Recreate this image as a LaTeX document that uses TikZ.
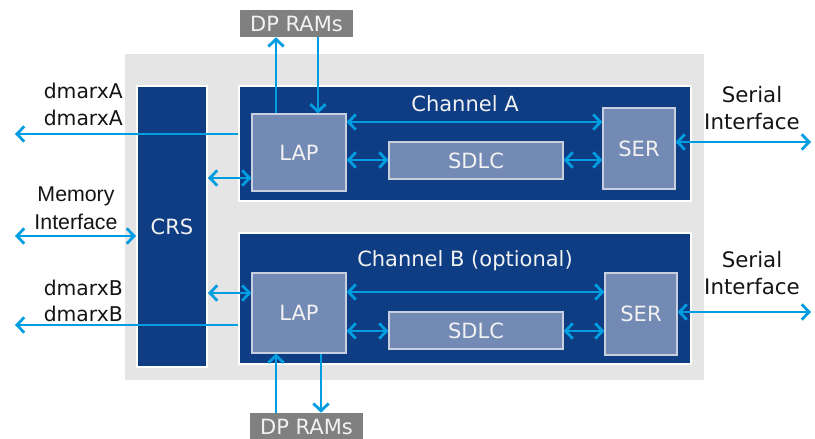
\documentclass[tikz,border=0pt]{standalone}
\usepackage{fontspec}
\setmainfont{DejaVu Sans}
\newfontfamily\arialfont{Liberation Sans}
\usetikzlibrary{arrows.meta}

\definecolor{chblue}{RGB}{14,61,132}
\definecolor{subblue}{RGB}{115,138,180}
\definecolor{subedge}{RGB}{200,208,224}
\definecolor{linkblue}{RGB}{0,158,224}
\definecolor{panelgray}{RGB}{229,229,229}
\definecolor{ramgray}{RGB}{128,128,128}
\definecolor{labelblack}{RGB}{20,20,20}
\definecolor{softwhite}{RGB}{242,242,242}

\tikzset{
  blk/.style 2 args={rectangle, inner sep=0pt,
    minimum width=#1*0.75pt, minimum height=#2*0.75pt},
  wtext/.style={text=softwhite, font=\fontsize{15.75pt}{18pt}\selectfont},
  chanbox/.style={fill=chblue, draw=white, line width=1.5pt},
  subbox/.style={fill=subblue, draw=subedge, line width=0.8pt, wtext},
  rambox/.style={fill=ramgray, wtext},
  extlabel/.style={text=labelblack, inner sep=0pt,
    font=\fontsize{15.25pt}{18pt}\selectfont},
  serlabel/.style={extlabel, anchor=base, font=\fontsize{16pt}{18pt}\selectfont},
  memlabel/.style={extlabel, anchor=base, font=\arialfont\fontsize{16pt}{18pt}\selectfont},
  tip/.tip={Straight Barb[length=5.5pt, width=11.5pt]},
  link/.style={draw=linkblue, line width=2.1pt},
  bi/.style={link, tip-tip},
  fwd/.style={link, -tip},
}

\begin{document}
\begin{tikzpicture}[x=0.75pt, y=-0.75pt]
\useasboundingbox (0,0) rectangle (815,439);

% grey panel holding the controller
\node[blk={579}{326}, fill=panelgray] (panel) at (414.5,217) {};

% CRS column and the two channels
\node[blk={70}{281}, chanbox, wtext] (crs) at (172,226.5) {CRS};
\node[blk={452}{115}, chanbox] (chA) at (465,143.5) {};
\node[blk={452}{131}, chanbox] (chB) at (465,298.5) {};
\node[wtext, anchor=base, inner sep=0pt] (chAlbl) at (465,111) {Channel A};
\node[wtext, anchor=base, inner sep=0pt] (chBlbl) at (465,266) {Channel B (optional)};

% blocks inside channel A
\node[blk={94}{77}, subbox] (lapA) at (299,152.5) {LAP};
\node[blk={174}{37}, subbox] (sdlcA) at (476,160.5) {SDLC};
\node[blk={72}{81}, subbox] (serA) at (639,148.5) {SER};

% blocks inside channel B
\node[blk={94}{80}, subbox] (lapB) at (299,313) {LAP};
\node[blk={174}{37}, subbox] (sdlcB) at (476,330.5) {SDLC};
\node[blk={72}{82}, subbox] (serB) at (641,314) {SER};

% dual-port RAMs
\node[blk={113}{27}, rambox] (dpA) at (296.5,23.5) {DP RAMs};
\node[blk={113}{27}, rambox] (dpB) at (306.5,426.5) {DP RAMs};

% external labels
\node[extlabel, anchor=base east] (dmA1) at (123,98.5) {dmarxA};
\node[extlabel, anchor=base east] (dmA2) at (123,125) {dmarxA};
\node[extlabel, anchor=base east] (dmB1) at (123,295) {dmarxB};
\node[extlabel, anchor=base east] (dmB2) at (123,321) {dmarxB};
\node[memlabel] (mem1) at (76,201) {Memory};
\node[memlabel] (mem2) at (76,229) {Interface};
\node[serlabel] (serA1) at (752,102.5) {Serial};
\node[serlabel] (serA2) at (752,129) {Interface};
\node[serlabel] (serB1) at (752,267) {Serial};
\node[serlabel] (serB2) at (752,294) {Interface};

% rows and columns used by the connectors
\coordinate (xA1) at (276,0);
\coordinate (xA2) at (318,0);
\coordinate (xB1) at (276,0);
\coordinate (xB2) at (321,0);
\coordinate (yA1) at (0,122);
\coordinate (yA2) at (0,160);
\coordinate (yA3) at (0,178);
\coordinate (yAs) at (0,142);
\coordinate (yB1) at (0,292);
\coordinate (yB2) at (0,331);
\coordinate (yB3) at (0,293);
\coordinate (yBs) at (0,312);
\coordinate (dmAend) at (15,134);
\coordinate (dmBend) at (15,325);
\coordinate (memend) at (15,236);
\coordinate (sAend) at (811,142);
\coordinate (sBend) at (811,312);

% channel A connectors
\draw[fwd] (lapA.north -| xA1) -- (dpA.south -| xA1);
\draw[fwd] (dpA.south -| xA2) -- (lapA.north -| xA2);
\draw[fwd] (chA.west |- dmAend) -- (dmAend);
\draw[bi] (crs.east |- yA3) -- (lapA.west |- yA3);
\draw[bi] (lapA.east |- yA1) -- (serA.west |- yA1);
\draw[bi] (lapA.east |- yA2) -- (sdlcA.west |- yA2);
\draw[bi] (sdlcA.east |- yA2) -- (serA.west |- yA2);
\draw[bi] (serA.east |- yAs) -- (sAend);

% memory interface
\draw[bi] (memend) -- (crs.west |- memend);

% channel B connectors
\draw[bi] (crs.east |- yB3) -- (lapB.west |- yB3);
\draw[fwd] (chB.west |- dmBend) -- (dmBend);
\draw[bi] (lapB.east |- yB1) -- (serB.west |- yB1);
\draw[bi] (lapB.east |- yB2) -- (sdlcB.west |- yB2);
\draw[bi] (sdlcB.east |- yB2) -- (serB.west |- yB2);
\draw[bi] (serB.east |- yBs) -- (sBend);
\draw[fwd] (dpB.north -| xB1) -- (lapB.south -| xB1);
\draw[fwd] (lapB.south -| xB2) -- (dpB.north -| xB2);
\end{tikzpicture}
\end{document}
